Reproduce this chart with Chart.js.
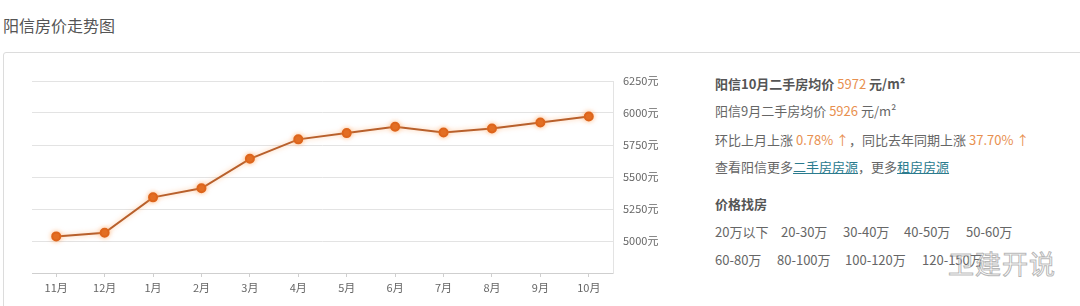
<!DOCTYPE html>
<html>
<head>
<meta charset="utf-8">
<script src="https://cdn.jsdelivr.net/npm/chart.js@4"></script>
<style>
  body { margin: 0; width: 1080px; height: 306px; overflow: hidden; background: #fff;
         font-family: "Noto Sans CJK SC", "Noto Sans", sans-serif; color: #666; position: relative; }
  .title { position: absolute; left: 3px; top: 13px; font-size: 16px; color: #555; }
  .box { position: absolute; left: 3px; top: 52px; width: 1090px; height: 300px;
         border: 1px solid #dcdcdc; border-radius: 3px; }
  .chart-wrap { position: absolute; left: 0; top: 60px; width: 680px; height: 246px; }
  .info { position: absolute; left: 715px; font-size: 13px; white-space: nowrap; line-height: 18px; }
  .info b { color: #555; }
  .hl { color: #e8904f; }
  .lk { color: #2b7b8e; text-decoration: underline; }
  .opt { position: absolute; font-size: 13px; color: #666; white-space: nowrap; line-height: 18px; }
  .wm { position: absolute; left: 948px; top: 244px; font-size: 26px; color: rgba(255,255,255,0.6);
        -webkit-text-stroke: 1px rgba(120,120,120,0.55); letter-spacing: 1px; white-space: nowrap; }
</style>
</head>
<body>
<div class="title">阳信房价走势图</div>
<div class="box"></div>
<div class="chart-wrap"><canvas id="priceChart"></canvas></div>

<div class="info" style="top:75px"><b>阳信10月二手房均价 </b><span class="hl">5972</span><b> 元/m²</b></div>
<div class="info" style="top:102px">阳信9月二手房均价 <span class="hl">5926</span> 元/m²</div>
<div class="info" style="top:131px">环比上月上涨 <span class="hl">0.78% ↑</span>，同比去年同期上涨 <span class="hl">37.70% ↑</span></div>
<div class="info" style="top:158px">查看阳信更多<span class="lk">二手房房源</span>，更多<span class="lk">租房房源</span></div>
<div class="info" style="top:195px"><b>价格找房</b></div>
<div id="opts"></div>
<div class="wm">卫建开说</div>

<script>
// 阳信二手房均价（元/m²）
var months = ['11月', '12月', '1月', '2月', '3月', '4月', '5月', '6月', '7月', '8月', '9月', '10月'];
var prices = [5036, 5064, 5341, 5412, 5642, 5794, 5843, 5892, 5848, 5879, 5926, 5972];
var yTicks = [4750, 5000, 5250, 5500, 5750, 6000, 6250];
var priceRanges = [
    ['20万以下', '20-30万', '30-40万', '40-50万', '50-60万'],
    ['60-80万', '80-100万', '100-120万', '120-150万']
];

// price filter links
var rowTops = [223, 251];
var colLefts = [[715, 781, 843, 904, 966], [715, 777, 845, 922]];
var opts = document.getElementById('opts');
priceRanges.forEach(function(row, r) {
    row.forEach(function(label, c) {
        var d = document.createElement('div');
        d.className = 'opt';
        d.style.top = rowTops[r] + 'px';
        d.style.left = colLefts[r][c] + 'px';
        d.textContent = label;
        opts.appendChild(d);
    });
});

// soft glow under the line
var glow = {
    id: 'glow',
    beforeDatasetDraw: function(chart) {
        chart.ctx.save();
        chart.ctx.shadowColor = 'rgba(255,150,70,0.55)';
        chart.ctx.shadowBlur = 5;
    },
    afterDatasetDraw: function(chart) {
        chart.ctx.restore();
    }
};

var ctx = document.getElementById('priceChart').getContext('2d');
var priceChart = new Chart(ctx, {
    type: 'line',
    data: {
        labels: months,
        datasets: [{
            data: prices,
            borderColor: '#b8602c',
            borderWidth: 2,
            pointBackgroundColor: '#dd651c',
            pointBorderColor: '#dd651c',
            pointRadius: 4,
            tension: 0
        }]
    },
    options: {
        responsive: true,
        maintainAspectRatio: false,
        animation: false,
        layout: { padding: { left: 32, top: 21, right: 0, bottom: 0 } },
        plugins: { legend: { display: false }, tooltip: { enabled: false } },
        scales: {
            x: {
                offset: true,
                grid: { drawOnChartArea: false, drawTicks: true, tickLength: 4, color: '#cfcfcf' },
                border: { display: true, color: '#cfcfcf' },
                ticks: { color: '#666', padding: 4, font: { size: 11, family: '"Noto Sans CJK SC", sans-serif' } },
                afterFit: function(scale) { scale.height = 33; }
            },
            y: {
                position: 'right',
                min: yTicks[0],
                max: yTicks[yTicks.length - 1],
                afterBuildTicks: function(scale) {
                    scale.ticks = yTicks.map(function(v) { return { value: v }; });
                },
                grid: { color: '#e3e3e3', drawTicks: false },
                border: { display: true, color: '#e3e3e3' },
                ticks: {
                    color: '#666',
                    padding: 10,
                    font: { size: 11, family: '"Noto Sans CJK SC", sans-serif' },
                    callback: function(v) { return v === yTicks[0] ? '' : v + '元'; }
                },
                afterFit: function(scale) { scale.width = 67; }
            }
        }
    },
    plugins: [glow]
});
</script>
</body>
</html>
